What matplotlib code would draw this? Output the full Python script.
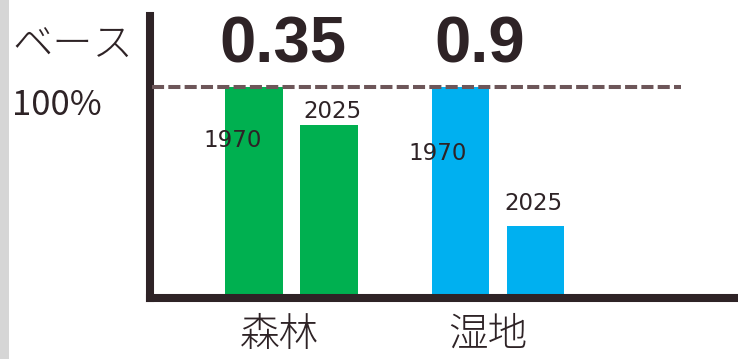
import matplotlib.pyplot as plt
from matplotlib.patches import Rectangle

# values relative to the 1970 level (= 100)
categories = ['森林', '湿地']
years = ['1970', '2025']
values_1970 = [100, 100]
values_2025 = [82, 33]
ratios = ['0.35', '0.9']
colors = ['#00b050', '#00b0f0']

ink = '#2e2326'
jp = ['Noto Sans CJK JP', 'DejaVu Sans']

fig = plt.figure(figsize=(7.38, 3.59), dpi=100)
ax = fig.add_axes([150 / 738, 61 / 359, 588 / 738, 282 / 359])

# grey strip along the left edge
fig.patches.append(Rectangle((0, 0), 9 / 738, 1, transform=fig.transFigure,
                             facecolor='#d6d6d6', edgecolor='none'))

width = 0.278
offset = 0.182
xs = range(len(categories))
for i in xs:
    ax.bar(i - offset, values_1970[i], width, color=colors[i], zorder=2)
    ax.bar(i + offset, values_2025[i], width, color=colors[i], zorder=2)

# baseline level
ax.axhline(100, xmin=0.004, xmax=0.903, color='#6d5659', lw=2.9,
           dashes=(3, 1.05), zorder=3)

ax.set_xlim(-0.685, 2.162)
ax.set_ylim(-1.94, 134.6)

# year labels, offsets in pixels from the top-centre of each bar
year_offsets = [[(-21, -53), (3, 13)], [(-23, -66), (-2, 22)]]
for i in xs:
    for j, vals in enumerate([values_1970, values_2025]):
        dx, dy = year_offsets[i][j]
        ax.annotate(years[j], (i - offset + 2 * offset * j, vals[i]),
                    xytext=(dx * 0.72, dy * 0.72), textcoords='offset points',
                    ha='center', va='center', fontsize=16.5, color=ink,
                    family='DejaVu Sans', zorder=4)

# ratio numbers above each group
ratio_dx = [-0.04, -0.087]
for i in xs:
    ax.text(i + ratio_dx[i], 112.3, ratios[i], ha='center', va='baseline',
            fontsize=47, fontweight='bold', family='Liberation Sans',
            color=ink)

# category names below the axis
label_dx = [-0.058, -0.05]
for i in xs:
    ax.text(i + label_dx[i], -0.055, categories[i],
            transform=ax.get_xaxis_transform(), ha='center', va='top',
            fontsize=28.5, family=jp, fontweight='light', color=ink)

fig.text(12 / 738, 1 - 57 / 359, 'ベース', ha='left', va='baseline',
         fontsize=29, family=jp, fontweight='light', color=ink)
fig.text(12 / 738, 1 - 115 / 359, '100%', ha='left', va='baseline',
         fontsize=25, family=jp, color=ink)

for side in ['top', 'right']:
    ax.spines[side].set_visible(False)
for side in ['left', 'bottom']:
    ax.spines[side].set_linewidth(5.8)
    ax.spines[side].set_color(ink)
ax.spines['bottom'].set_capstyle('projecting')
ax.set_xticks([])
ax.set_yticks([])
ax.patch.set_visible(False)

fig.savefig('out.png', dpi=100)
